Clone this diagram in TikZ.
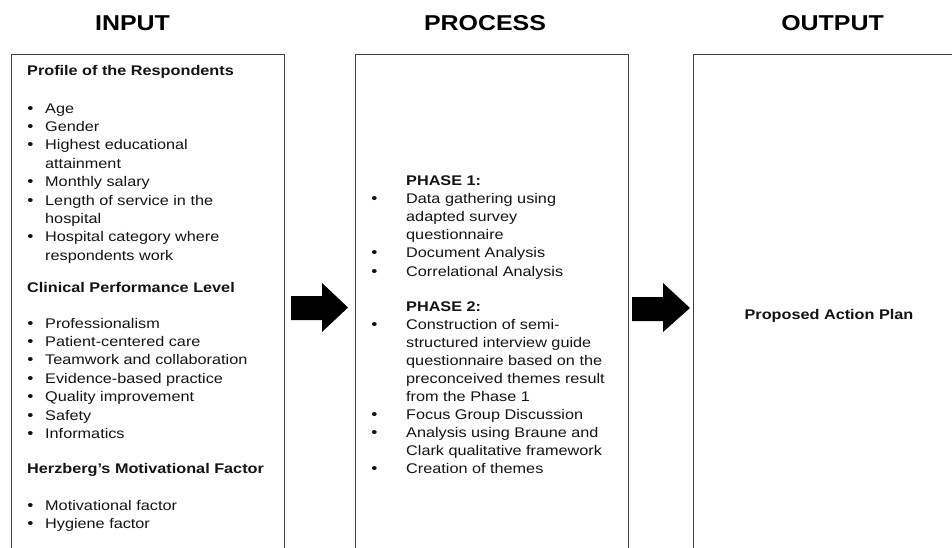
\documentclass[tikz,border=0pt]{standalone}
\usepackage{fontspec}
\setmainfont{Liberation Sans}[FakeStretch=1.16]
\begin{document}
\begin{tikzpicture}[x=1pt,y=-1pt,
  box/.style={draw=black!75, line width=1.3pt, anchor=north west, inner sep=0pt,
    minimum width=273pt, minimum height=510pt},
  ttl/.style={font=\fontsize{21.5}{24}\selectfont\bfseries, anchor=base, inner sep=0pt, text=black},
  txt/.style={font=\fontsize{14}{17}\selectfont, anchor=base west, inner sep=0pt, text=black!92},
  hd/.style={txt, font=\fontsize{14}{17}\selectfont\bfseries},
  bul/.style={txt, anchor=base, font=\fontsize{15}{17}\selectfont},
  blockarrow/.style={fill=black}]
\useasboundingbox (0,0) rectangle (952,547);
\clip (0,0) rectangle (952,547);
\fill[white] (0,0) rectangle (952,547);

% titles
\node[ttl] (tin) at (132.5,30.5) {INPUT};
\node[ttl] (tproc) at (485,30.5) {PROCESS};
\node[ttl] (tout) at (832.5,30.5) {OUTPUT};

% boxes
\node[box] (inbox) at (11,54) {};
\node[box] (procbox) at (355,54) {};
\node[box] (outbox) at (693,54) {};

% input box
\node[hd] (h1) at (27,75) {Profile of the Respondents};
\foreach \y/\t [count=\i] in {113/Age, 131.4/Gender, 149.8/Highest educational, 168.2/attainment,
  186.6/Monthly salary, 205/Length of service in the, 223.4/hospital,
  241.8/Hospital category where, 260.2/respondents work}
  \node[txt] (pa\i) at (45,\y) {\t};
\foreach \y [count=\i] in {113,131.4,149.8,186.6,205,241.8}
  \node[bul] (pab\i) at (30.5,\y) {\textbullet};

\node[hd] (h2) at (27,292) {Clinical Performance Level};
\foreach \y/\t [count=\i] in {328/Professionalism, 346.4/Patient-centered care,
  364.8/Teamwork and collaboration, 383.2/Evidence-based practice,
  401.6/Quality improvement, 420/Safety, 438.4/Informatics}
  {\node[txt] (cp\i) at (45,\y) {\t};
   \node[bul] (cpb\i) at (30.5,\y) {\textbullet};}

\node[hd] (h3) at (27,473) {Herzberg's Motivational Factor};
\foreach \y/\t [count=\i] in {510/Motivational factor, 528.4/Hygiene factor}
  {\node[txt] (hm\i) at (45,\y) {\t};
   \node[bul] (hmb\i) at (30.5,\y) {\textbullet};}

% process box
\node[hd] (ph1) at (406,185) {PHASE 1:};
\foreach \y/\t [count=\i] in {203.2/Data gathering using, 221.4/adapted survey,
  239.6/questionnaire, 257.8/Document Analysis, 276/Correlational Analysis}
  \node[txt] (p1\i) at (406,\y) {\t};
\foreach \y [count=\i] in {203.2,257.8,276}
  \node[bul] (p1b\i) at (374.5,\y) {\textbullet};

\node[hd] (ph2) at (406,311) {PHASE 2:};
\foreach \y/\t [count=\i] in {329.1/Construction of semi-, 347.2/structured interview guide,
  365.3/questionnaire based on the, 383.4/preconceived themes result,
  401.5/from the Phase 1, 419.6/Focus Group Discussion, 437.7/Analysis using Braune and,
  455.8/Clark qualitative framework, 473.9/Creation of themes}
  \node[txt] (p2\i) at (406,\y) {\t};
\foreach \y [count=\i] in {329.1,419.6,437.7,473.9}
  \node[bul] (p2b\i) at (374.5,\y) {\textbullet};

% output box
\node[hd, anchor=base] (plan) at (829,319) {Proposed Action Plan};

% block arrows
\fill[blockarrow] (291,296) -- (322,296) -- (322,283) -- (348,307.5) -- (322,332)
  -- (322,320) -- (291,320) -- cycle;
\fill[blockarrow] (632,297) -- (663,297) -- (663,283) -- (690,308) -- (663,332)
  -- (663,321) -- (632,321) -- cycle;
\end{tikzpicture}
\end{document}
